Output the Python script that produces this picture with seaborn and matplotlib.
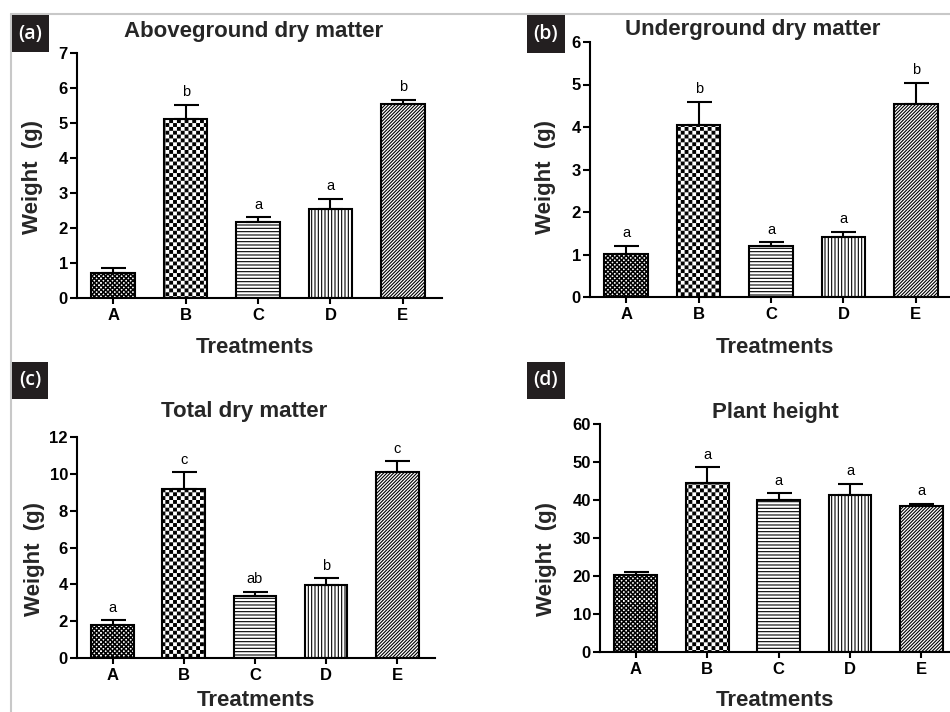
import numpy as np
import pandas as pd
import matplotlib
matplotlib.use("Agg")
import matplotlib.pyplot as plt
import matplotlib.hatch as mhatch
from matplotlib.path import Path
from matplotlib.lines import Line2D
from matplotlib.patches import Rectangle
import seaborn as sns

# ---------------- data ----------------
treatments = ["A", "B", "C", "D", "E"]

above_mean = [0.71, 5.12, 2.18, 2.55, 5.53]
above_err = [0.14, 0.40, 0.13, 0.28, 0.13]
above_sig = ["", "b", "a", "a", "b"]

under_mean = [1.02, 4.05, 1.20, 1.42, 4.53]
under_err = [0.18, 0.55, 0.09, 0.11, 0.51]
under_sig = ["a", "b", "a", "a", "b"]

total_mean = [1.77, 9.19, 3.38, 3.98, 10.08]
total_err = [0.28, 0.89, 0.22, 0.36, 0.60]
total_sig = ["a", "c", "ab", "b", "c"]

height_mean = [20.2, 44.5, 40.0, 41.2, 38.3]
height_err = [0.8, 4.1, 1.8, 3.0, 0.7]
height_sig = ["", "a", "a", "a", "a"]

titles = ["Aboveground dry matter", "Underground dry matter",
          "Total dry matter", "Plant height"]
panel_labels = ["(a)", "(b)", "(c)", "(d)"]
yticks_list = [list(range(0, 8, 1)), list(range(0, 7, 1)),
               list(range(0, 13, 2)), list(range(0, 61, 10))]

# ---------------- custom checkerboard hatches ----------------
HATCH_LW = 0.8
plt.rcParams["hatch.linewidth"] = HATCH_LW


class _Checker(mhatch.HatchPatternBase):
    char = "O"
    cells = 26
    shrink = 1.0

    def __init__(self, hatch, density):
        active = hatch.count(self.char) > 0
        n = self.cells
        self.num_squares = (n * n) // 2 if active else 0
        self.num_vertices = self.num_squares * 5

    def set_vertices_and_codes(self, vertices, codes):
        n = self.cells
        c = 1.0 / n
        lw = HATCH_LW / 72.0 * self.shrink
        s = c - lw
        off = (c - s) / 2
        base = np.array([[0, 0], [s, 0], [s, s], [0, s], [0, 0]], float)
        parts = []
        for i in range(n):
            for j in range(n):
                if (i + j) % 2 == 0:
                    parts.append(base + [i * c + off, j * c + off])
        vertices[:] = np.concatenate(parts)
        codes[:] = np.tile([Path.MOVETO, Path.LINETO, Path.LINETO,
                            Path.LINETO, Path.CLOSEPOLY], self.num_squares)


class FineChecker(_Checker):
    char = "o"
    cells = 44
    shrink = 0.5


class CoarseChecker(_Checker):
    char = "O"
    cells = 26
    shrink = 1.0


mhatch._hatch_types[:] = [mhatch.HorizontalHatch, mhatch.VerticalHatch,
                          mhatch.NorthEastHatch, mhatch.SouthEastHatch,
                          FineChecker, CoarseChecker,
                          mhatch.SmallFilledCircles, mhatch.Stars]

hatches = ["o", "O", "-----", "|||||", "//////////"]

# ---------------- style ----------------
sns.set_style("ticks")
plt.rcParams["font.family"] = ["Liberation Sans", "DejaVu Sans"]

W, H = 950, 712
fig = plt.figure(figsize=(W / 100, H / 100), dpi=100)
fig.patch.set_facecolor("white")

# layout in pixels
panels = [
    dict(ax=(77, 53, 365, 245), xr=4.54, title=(254, 37), ylab=(43, 177),
         xlab=(255, 337), box=(12, 15, 37, 37)),
    dict(ax=(590, 42, 365, 255), xr=4.54, title=(753, 35), ylab=(556, 177),
         xlab=(775, 337), box=(527, 15, 38, 38)),
    dict(ax=(77, 437, 358, 221), xr=4.53, title=(244, 417), ylab=(45, 559),
         xlab=(256, 690), box=(12, 362, 36, 37)),
    dict(ax=(600, 424, 360, 228), xr=4.54, title=(775, 418), ylab=(557, 559),
         xlab=(775, 690), box=(527, 362, 38, 37)),
]
series = [(above_mean, above_err, above_sig),
          (under_mean, under_err, under_sig),
          (total_mean, total_err, total_sig),
          (height_mean, height_err, height_sig)]

for k, (lay, (means, errs, sigs)) in enumerate(zip(panels, series)):
    l, t, w, h = lay["ax"]
    ax = fig.add_axes([l / W, (H - t - h) / H, w / W, h / H])
    df = pd.DataFrame({"Treatment": treatments, "Weight": means})
    sns.barplot(data=df, x="Treatment", y="Weight", ax=ax, color="white",
                saturation=1, edgecolor="black", linewidth=1.5, width=0.6,
                errorbar=None, zorder=2)
    centers = []
    for p, hp in zip(ax.patches, hatches):
        p.set_hatch(hp)
        p.set_facecolor("white")
        p.set_edgecolor("black")
        centers.append(p.get_x() + p.get_width() / 2)
    centers = np.array(centers)
    means_a = np.array(means)
    errs_a = np.array(errs)
    ax.errorbar(centers, means_a, yerr=[np.zeros_like(errs_a), errs_a],
                fmt="none", ecolor="black", elinewidth=1.5, capsize=9,
                capthick=1.5, zorder=3)
    for cx, m, e, s in zip(centers, means_a, errs_a, sigs):
        if s:
            ax.annotate(s, (cx, m + e), xytext=(0, 4),
                        textcoords="offset points", ha="center", va="bottom",
                        fontsize=10.5, color="black")

    yt = yticks_list[k]
    ax.set_ylim(0, yt[-1])
    ax.set_yticks(yt)
    ax.set_xlim(-0.5, lay["xr"])
    sns.despine(ax=ax)
    for sp in ("left", "bottom"):
        ax.spines[sp].set_linewidth(1.5)
        ax.spines[sp].set_color("black")
    ax.tick_params(axis="x", direction="out", length=4.5, width=1.5,
                   labelsize=12, pad=3, colors="black")
    ax.tick_params(axis="y", direction="out", length=5, width=1.5,
                   labelsize=12, pad=1.5, colors="black")
    for lab in ax.get_xticklabels() + ax.get_yticklabels():
        lab.set_fontweight("bold")

    ax.set_xlabel("Treatments", fontsize=16, fontweight="bold")
    ax.set_ylabel("Weight  (g)", fontsize=16, fontweight="bold")
    xl, yl = lay["xlab"]
    ax.xaxis.set_label_coords((xl - l) / w, (t + h - yl) / h)
    xl, yl = lay["ylab"]
    ax.yaxis.set_label_coords((xl - l) / w, (t + h - yl) / h)

    tx, ty = lay["title"]
    ax.set_title(titles[k], x=(tx - l) / w, y=(t + h - ty) / h, pad=0,
                 va="baseline", ha="center", fontsize=16, fontweight="bold")

    bx, by, bw, bh = lay["box"]
    fig.add_artist(Rectangle((bx / W, (H - by - bh) / H), bw / W, bh / H,
                             transform=fig.transFigure, facecolor="#231f20",
                             edgecolor="none", zorder=5))
    fig.text((bx + bw / 2) / W, (H - by - bh / 2) / H, panel_labels[k],
             color="white", ha="center", va="center", fontsize=14,
             family=["Open Sans", "DejaVu Sans"], fontweight="semibold",
             zorder=6)

# light grey frame (top and left)
fig.add_artist(Line2D([11 / W, 1.0], [(H - 14) / H] * 2,
                      transform=fig.transFigure, color="#c8c8c8", lw=1.5))
fig.add_artist(Line2D([11 / W, 11 / W], [0, (H - 14) / H],
                      transform=fig.transFigure, color="#c8c8c8", lw=1.5))

fig.savefig("out.png", dpi=100, facecolor="white")
